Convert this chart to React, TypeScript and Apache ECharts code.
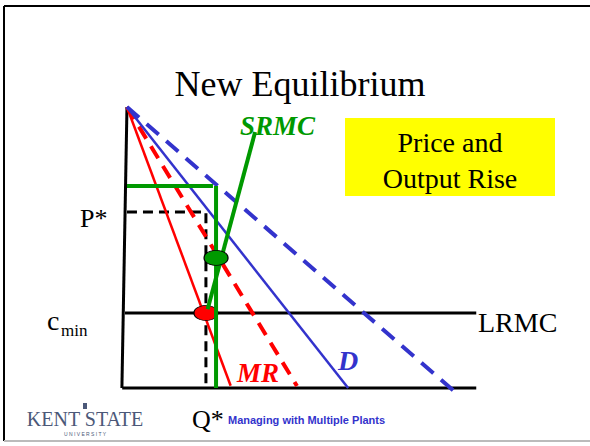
import React, { useEffect, useRef } from "react";
import * as echarts from "echarts";

// Quantity (x) / price (y) coordinates of the diagram
const priceAxis = [[0.7, 100], [-1.1, 0]];
const quantityAxis = [[-1, 0], [125, 0]];
const lrmc = [[0, 26.7], [125, 26.7]];
const mrOld = [[0.7, 100], [37.6, 0.8]];
const mrNew = [[0.7, 100], [61.2, 0.7]];
const demandOld = [[0.7, 100], [79.4, 0]];
const demandNew = [[0.7, 100], [117.4, -1.4]];
const srmc = [[46.3, 91.1], [29.4, 28]];
const oldEquilibrium = [[0.7, 62.6], [28.8, 62.6], [28.8, 0]];
const newPriceLine = [[0.7, 71.9], [31.3, 71.9]];
const newQuantityLine = [[32.4, 71.9], [32.4, 0]];
const oldPoint = [[28.8, 26.7]];
const newPoint = [[32.4, 46.3]];

const RED = "#ff0000";
const BLUE = "#3333cc";
const GREEN = "#009900";
const SERIF = "'Liberation Serif', 'Times New Roman', serif";
const SANS = "'Liberation Sans', Arial, sans-serif";

const txt = (x: number, y: number, text: string, size: number, fill: string, extra: any = {}) => ({
  type: "text",
  x,
  y,
  style: {
    text,
    fontFamily: SERIF,
    fontSize: size,
    fill,
    verticalAlign: "middle",
    ...extra,
  },
});

export default function App() {
  const ref = useRef<HTMLDivElement>(null);
  useEffect(() => {
    if (!ref.current) return;
    const chart = echarts.init(ref.current, null, { renderer: "svg" });
    const line = (name: string, data: number[][], color: string, width: number, type: any = "solid", z = 2) => ({
      name,
      type: "line",
      data,
      symbol: "none",
      clip: false,
      z,
      lineStyle: { color, width, type, cap: "butt" },
    });
    chart.setOption({
      animation: false,
      backgroundColor: "#ffffff",
      grid: { left: 96.9, top: 78.9, width: 393.4, height: 337.2 },
      xAxis: { type: "value", min: -10, max: 130, show: false },
      yAxis: { type: "value", min: -10, max: 110, show: false },
      series: [
        line("priceAxis", priceAxis, "#000", 3),
        line("quantityAxis", quantityAxis, "#000", 3),
        line("LRMC", lrmc, "#000", 3),
        line("oldEquilibrium", oldEquilibrium, "#000", 3, [10, 6]),
        line("MR old", mrOld, RED, 2.5),
        line("MR new", mrNew, RED, 4, [14, 9]),
        line("D old", demandOld, BLUE, 2.5),
        line("D new", demandNew, BLUE, 4, [16, 10]),
        {
          name: "oldPoint",
          type: "scatter",
          data: oldPoint,
          symbol: "circle",
          symbolSize: [24, 15],
          z: 3,
          itemStyle: { color: RED, borderColor: "#000", borderWidth: 1, opacity: 1 },
        },
        line("SRMC", srmc, GREEN, 4, "solid", 4),
        line("newPrice", newPriceLine, GREEN, 4, "solid", 4),
        line("newQuantity", newQuantityLine, GREEN, 4, "solid", 4),
        {
          name: "newPoint",
          type: "scatter",
          data: newPoint,
          symbol: "circle",
          symbolSize: [24, 15],
          z: 5,
          itemStyle: { color: GREEN, borderColor: "#000", borderWidth: 1, opacity: 1 },
        },
      ],
      graphic: [
        { type: "line", shape: { x1: 4, y1: 6, x2: 590, y2: 6 }, style: { stroke: "#000", lineWidth: 2 } },
        { type: "line", shape: { x1: 4, y1: 6, x2: 4, y2: 441 }, style: { stroke: "#000", lineWidth: 2 } },
        { type: "line", shape: { x1: 4, y1: 441, x2: 590, y2: 441 }, style: { stroke: "#bbbbbb", lineWidth: 2 } },
        txt(300, 84, "New Equilibrium", 36, "#000", { align: "center" }),
        { type: "rect", shape: { x: 345, y: 118, width: 210, height: 78 }, style: { fill: "#ffff00" } },
        txt(450, 142, "Price and", 28, "#000", { align: "center" }),
        txt(450, 178, "Output Rise", 28, "#000", { align: "center" }),
        txt(240, 126, "SRMC", 27, GREEN, { fontStyle: "italic", fontWeight: "bold" }),
        txt(237, 373, "MR", 27, RED, { fontStyle: "italic", fontWeight: "bold" }),
        txt(338, 360, "D", 28, BLUE, { fontStyle: "italic", fontWeight: "bold" }),
        txt(478, 322, "LRMC", 28, "#000"),
        txt(80, 218, "P*", 26, "#000"),
        txt(47, 320, "c", 28, "#000"),
        txt(61, 330, "min", 17, "#000"),
        txt(192, 419, "Q*", 26, "#000"),
        txt(228, 420, "Managing with Multiple Plants", 11, BLUE, { fontFamily: SANS, fontWeight: "bold" }),
        txt(85, 419, "KENT STATE", 20, "#4b5878", { align: "center" }),
        txt(85, 434, "U N I V E R S I T Y", 5, "#4b5878", { align: "center", fontFamily: SANS }),
        { type: "rect", shape: { x: 83, y: 403, width: 4, height: 6 }, style: { fill: "#4b5878" } },
      ],
    });
    return () => chart.dispose();
  }, []);
  return (
    <div
      ref={ref}
      style={{ position: "absolute", left: 0, top: 0, width: 590, height: 446 }}
    />
  );
}
